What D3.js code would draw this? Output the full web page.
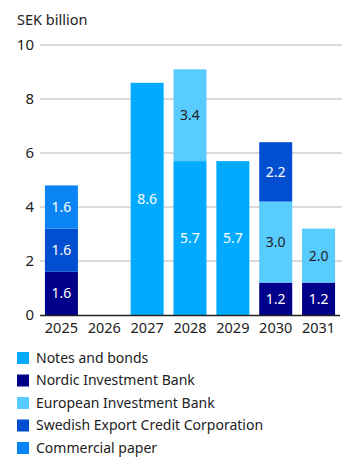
<!DOCTYPE html>
<html>
<head>
<meta charset="utf-8">
<script src="https://cdn.jsdelivr.net/npm/d3@7"></script>
<style>
  html, body { margin: 0; padding: 0; background: #fff; }
  svg { display: block; font-family: "Noto Sans", "Open Sans", sans-serif; }
</style>
</head>
<body>
<svg id="chart" width="344" height="458"></svg>
<script>
// Maturity profile, SEK billion
const years = ["2025", "2026", "2027", "2028", "2029", "2030", "2031"];
const seriesNames = [
  "Notes and bonds",
  "Nordic Investment Bank",
  "European Investment Bank",
  "Swedish Export Credit Corporation",
  "Commercial paper"
];
const notesAndBonds = [0, 0, 8.6, 5.7, 5.7, 0, 0];
const nordicInvestmentBank = [1.6, 0, 0, 0, 0, 1.2, 1.2];
const europeanInvestmentBank = [0, 0, 0, 3.4, 0, 3.0, 2.0];
const swedishExportCredit = [1.6, 0, 0, 0, 0, 2.2, 0];
const commercialPaper = [1.6, 0, 0, 0, 0, 0, 0];
const yTicks = [0, 2, 4, 6, 8, 10];

const colors = ["#00aaff", "#01008a", "#59ccff", "#014fd0", "#0a84f5"];
const labelColors = ["#fff", "#fff", "#222", "#fff", "#fff"];

// stacking order from the bottom up
const stackOrder = [1, 0, 2, 3, 4];
const seriesValues = [notesAndBonds, nordicInvestmentBank, europeanInvestmentBank, swedishExportCredit, commercialPaper];

const rows = years.map((y, i) => {
  const r = { year: y };
  seriesNames.forEach((n, k) => r[n] = seriesValues[k][i]);
  return r;
});

const svg = d3.select("#chart");
const x = d3.scaleBand().domain(years).range([40, 340]).paddingInner(0.23).paddingOuter(0.115);
const y = d3.scaleLinear().domain([0, 10]).range([315, 45]);

// gridlines
svg.append("g").selectAll("line").data(yTicks.filter(t => t > 0)).join("line")
  .attr("x1", 40).attr("x2", 342)
  .attr("y1", d => y(d)).attr("y2", d => y(d))
  .attr("stroke", "#b5b5b5").attr("stroke-width", 1);

// y tick labels
svg.append("g").selectAll("text").data(yTicks).join("text")
  .attr("x", 34).attr("y", d => y(d)).attr("dy", "0.35em")
  .attr("text-anchor", "end").attr("font-size", 15).attr("fill", "#222")
  .text(d => d);

svg.append("text").attr("x", 17).attr("y", 25)
  .attr("font-size", 14.5).attr("fill", "#222").text("SEK billion");

const stack = d3.stack().keys(stackOrder.map(k => seriesNames[k]));
const layers = stack(rows);

layers.forEach((layer, li) => {
  const k = stackOrder[li];
  const g = svg.append("g");
  g.selectAll("rect").data(layer.filter(d => d[1] - d[0] > 0)).join("rect")
    .attr("x", d => x(d.data.year))
    .attr("width", x.bandwidth())
    .attr("y", d => y(d[1]))
    .attr("height", d => y(d[0]) - y(d[1]))
    .attr("fill", colors[k]);
  g.selectAll("text").data(layer.filter(d => d[1] - d[0] > 0)).join("text")
    .attr("x", d => x(d.data.year) + x.bandwidth() / 2)
    .attr("y", d => y((d[0] + d[1]) / 2))
    .attr("dy", "0.35em")
    .attr("text-anchor", "middle").attr("font-size", 14)
    .attr("fill", labelColors[k])
    .text(d => d3.format(".1f")(d[1] - d[0]));
});

// baseline
svg.append("line").attr("x1", 40).attr("x2", 340)
  .attr("y1", y(0) + 0.5).attr("y2", y(0) + 0.5)
  .attr("stroke", "#222").attr("stroke-width", 1.5);

// x axis labels
svg.append("g").selectAll("text").data(years).join("text")
  .attr("x", d => x(d) + x.bandwidth() / 2).attr("y", 333)
  .attr("text-anchor", "middle").attr("font-size", 14.5).attr("fill", "#222")
  .text(d => d);

// legend
const legend = svg.append("g").selectAll("g").data(seriesNames).join("g")
  .attr("transform", (d, i) => `translate(17, ${358 + i * 22.5})`);
legend.append("rect").attr("x", 0).attr("y", -6).attr("width", 12).attr("height", 12)
  .attr("fill", (d, i) => colors[i]);
legend.append("text").attr("x", 19).attr("y", 0).attr("dy", "0.35em")
  .attr("font-size", 14).attr("fill", "#222").text(d => d);
</script>
</body>
</html>
